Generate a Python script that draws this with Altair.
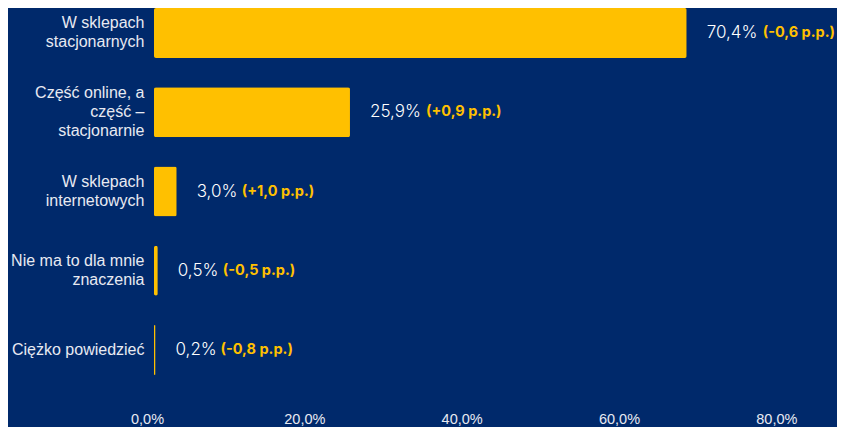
import altair as alt
import pandas as pd

categories = [
    "W sklepach|stacjonarnych",
    "Część online, a|część –|stacjonarnie",
    "W sklepach|internetowych",
    "Nie ma to dla mnie|znaczenia",
    "Ciężko powiedzieć",
]
values = [70.4, 25.9, 3.0, 0.5, 0.2]
value_labels = ["70,4%", "25,9%", "3,0%", "0,5%", "0,2%"]
change_labels = ["(-0,6 p.p.)", "(+0,9 p.p.)", "(+1,0 p.p.)", "(-0,5 p.p.)", "(-0,8 p.p.)"]
tick_values = [0, 20, 40, 60, 80]

BG = "#00296B"
YELLOW = "#FFC000"
X_MAX = 90
PLOT_W = 681
PX_PER_UNIT = PLOT_W / X_MAX
LINE_H = 19

df = pd.DataFrame({
    "cat": categories,
    "value": values,
    "vtext": value_labels,
    "ctext": change_labels,
})

x_scale = alt.Scale(domain=[0, X_MAX], nice=False, zero=True)
y_enc = alt.Y(
    "cat:N",
    sort=categories,
    scale=alt.Scale(paddingInner=0.37, paddingOuter=0),
    axis=alt.Axis(
        title=None,
        labelExpr="split(datum.label, '|')",
        labelOffset={"expr": f"-(length(split(datum.label, '|')) - 1) * {LINE_H / 2}"},
        labelFont="Liberation Sans",
        labelFontSize=16,
        labelColor="#E8EAF2",
        labelPadding=10,
        labelLineHeight=LINE_H,
        labelLimit=200,
        ticks=False,
        domain=False,
    ),
)

bars = alt.Chart(df).mark_bar(color=YELLOW, cornerRadius=2).encode(
    x=alt.X(
        "value:Q",
        scale=x_scale,
        axis=alt.Axis(
            title=None,
            values=tick_values,
            labelExpr="replace(format(datum.value, '.1f'), '.', ',') + '%'",
            labelOffset={"expr": "datum.value * 0.3 - 7"},
            labelFlush=False,
            labelFont="Liberation Sans",
            labelFontSize=14.5,
            labelColor="#E8EAF2",
            labelPadding=37,
            ticks=False,
            domain=False,
            grid=False,
        ),
    ),
    y=y_enc,
)

vtext = alt.Chart(df).mark_text(
    align="left", baseline="middle", dx=20, font="Inter", fontWeight=300,
    fontSize=17, color="#FFFFFF",
).encode(x=alt.X("value:Q", scale=x_scale), y=y_enc, text="vtext:N")

ctext = alt.Chart(df).transform_calculate(
    cx=f"datum.value + (length(datum.vtext) * 11 + 21) / {PX_PER_UNIT}"
).mark_text(
    align="left", baseline="middle", font="Inter", fontWeight="bold",
    fontSize=14.5, color=YELLOW,
).encode(x=alt.X("cx:Q", scale=x_scale), y=y_enc, text="ctext:N")

chart = alt.layer(bars, vtext, ctext).properties(
    width=PLOT_W,
    height=367,
    background=BG,
    padding={"left": 146, "top": 0, "right": 2, "bottom": 52},
    autosize=alt.AutoSizeParams(type="none"),
).configure_view(stroke=None)

chart.save("out.html", embed_options={"renderer": "svg", "actions": False})
